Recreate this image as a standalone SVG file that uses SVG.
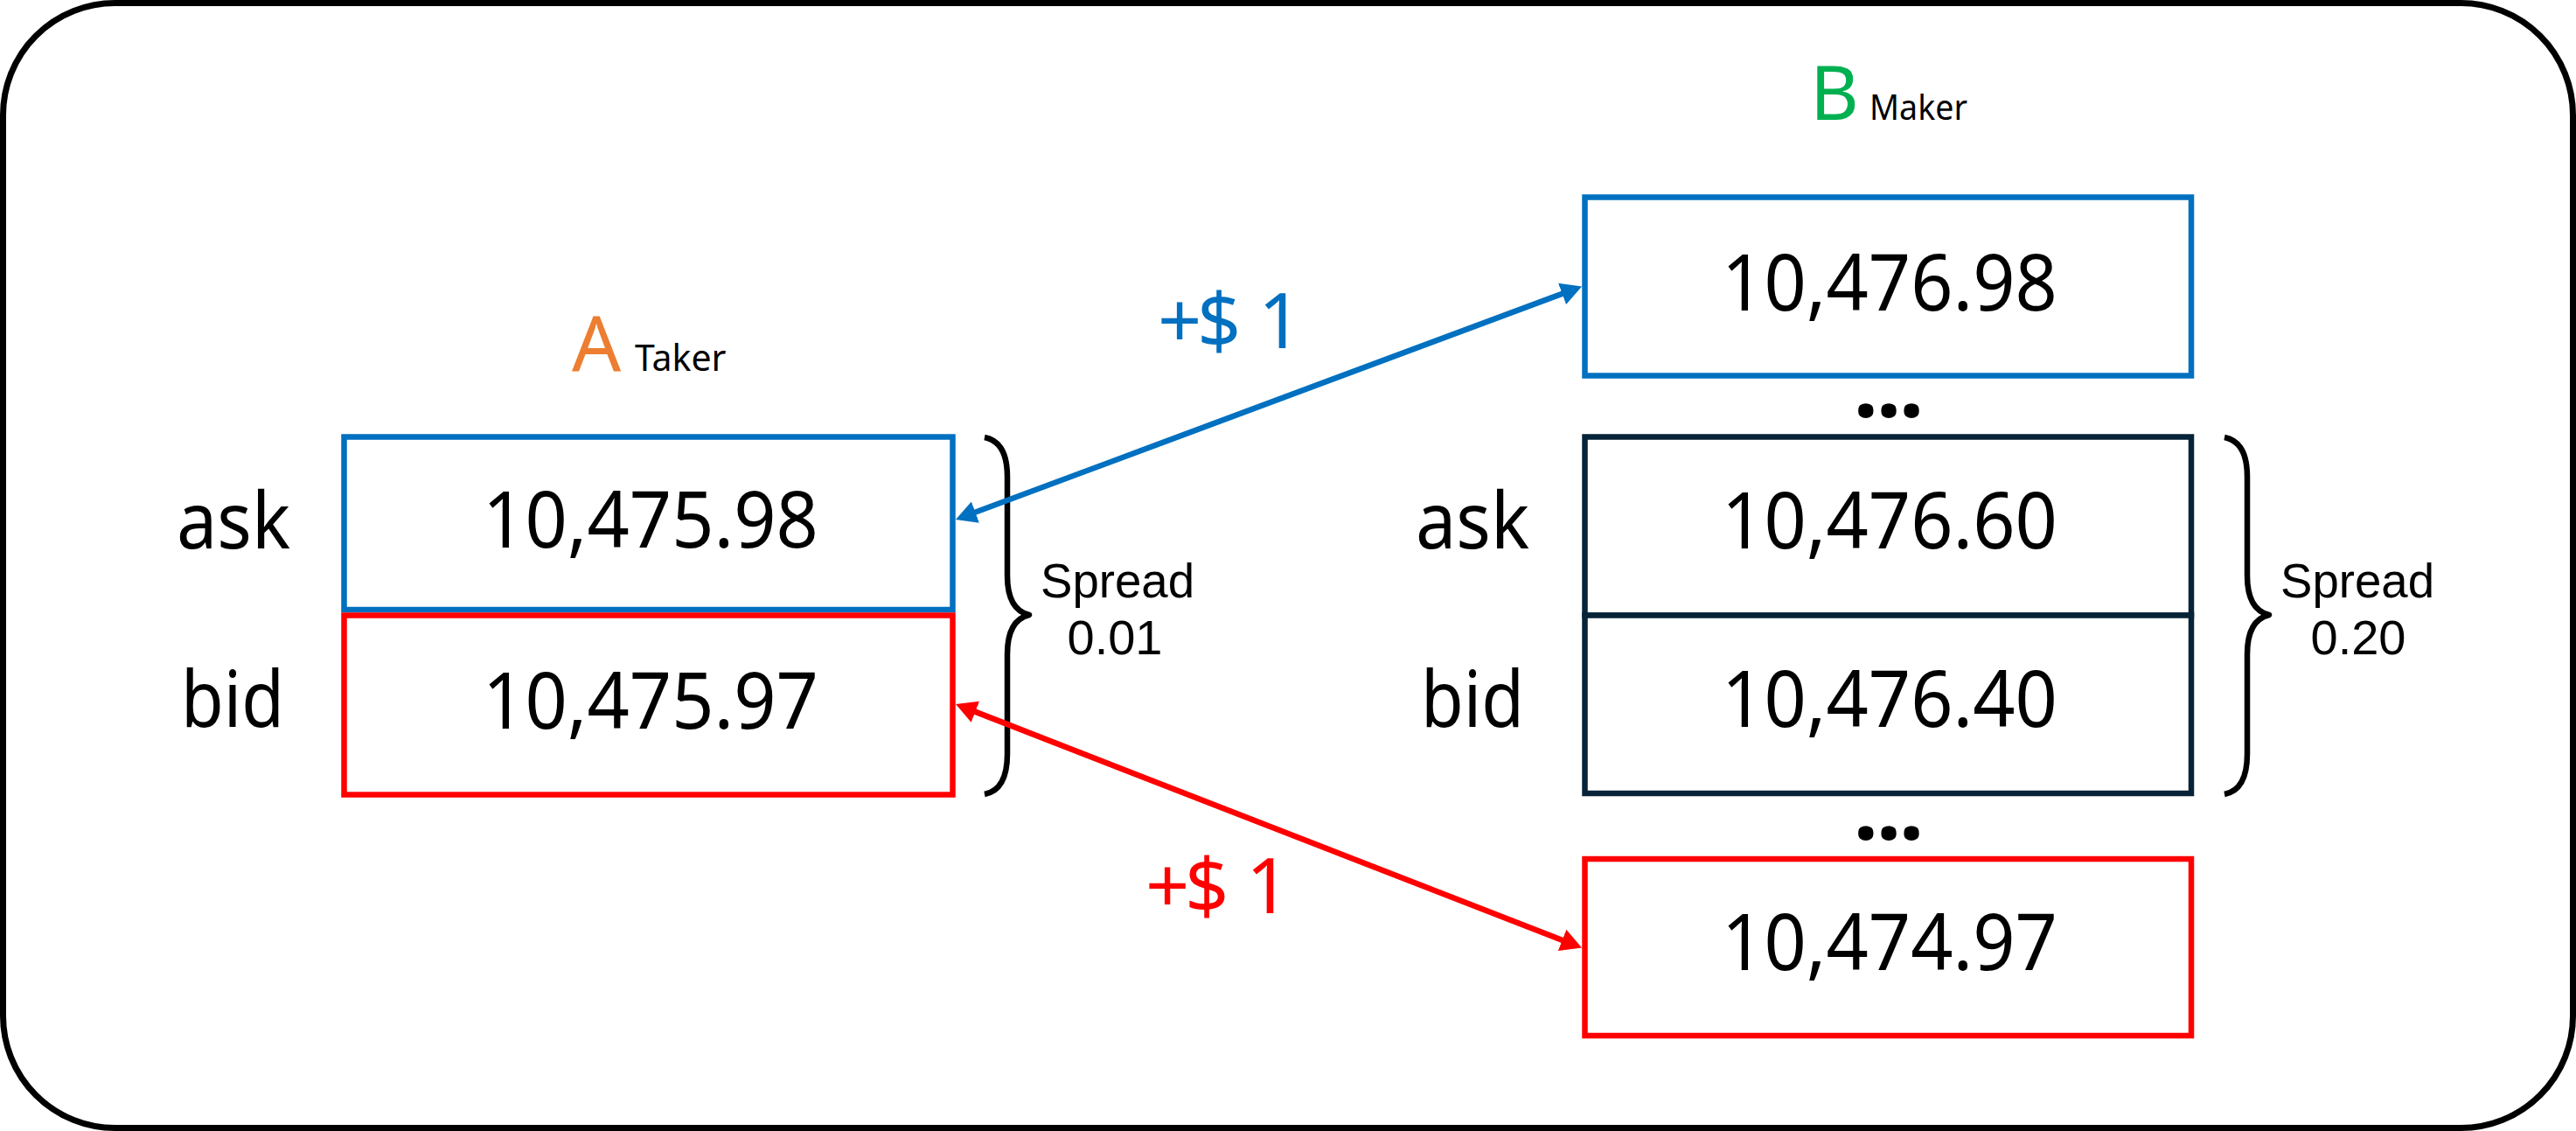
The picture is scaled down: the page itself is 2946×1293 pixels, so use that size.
<svg xmlns="http://www.w3.org/2000/svg" width="2946" height="1293" viewBox="0 0 2946 1293">
<style>
text{font-family:"Noto Sans","Open Sans","Liberation Sans",sans-serif;fill:#000}
.num{font-size:90px;text-anchor:middle}
.lbl{font-size:90px;text-anchor:middle}
.spr{font-family:"Liberation Sans",Arial,sans-serif;font-size:56px;text-anchor:middle}
.dots{font-size:100px;font-weight:bold;text-anchor:middle;letter-spacing:-2px}
.box{fill:#fff;stroke-width:6.5}
.blue{stroke:#0070C0}
.red{stroke:#FF0000}
.dark{stroke:#062338}
.brace{fill:none;stroke:#000;stroke-width:6.5;stroke-linejoin:round}
.conn{fill:none;stroke-width:6.5}
.gain{font-size:88px}
</style>
<defs>
<marker id="ahBlue" markerUnits="userSpaceOnUse" viewBox="0 0 24 26" refX="12" refY="13" markerWidth="24" markerHeight="26" orient="auto-start-reverse"><path d="M0,0 L24,13 L0,26 z" fill="#0070C0"/></marker>
<marker id="ahRed" markerUnits="userSpaceOnUse" viewBox="0 0 24 26" refX="12" refY="13" markerWidth="24" markerHeight="26" orient="auto-start-reverse"><path d="M0,0 L24,13 L0,26 z" fill="#FF0000"/></marker>
</defs>
<rect id="frame" x="3.5" y="3.5" width="2939" height="1286" rx="128" ry="128" fill="#fff" stroke="#000" stroke-width="7"/>

<g id="titleA">
<text x="654" y="424" style="font-size:88px;fill:#ED7D31">A</text>
<text x="726" y="424" style="font-size:41px">Taker</text>
</g>
<g id="titleB">
<text x="2070" y="137" style="font-size:86px;fill:#00B050">B</text>
<text x="2138" y="137" style="font-size:40px" textLength="112" lengthAdjust="spacingAndGlyphs">Maker</text>
</g>

<g id="A-ask">
<rect class="box blue" x="393.5" y="499.5" width="696" height="197.5"/>
<text class="lbl" x="267" y="627" textLength="130" lengthAdjust="spacingAndGlyphs">ask</text>
<text class="num" x="744" y="626" textLength="384" lengthAdjust="spacingAndGlyphs">10,475.98</text>
</g>
<g id="A-bid">
<rect class="box red" x="393.5" y="703.5" width="696" height="205"/>
<text class="lbl" x="266" y="831" textLength="118" lengthAdjust="spacingAndGlyphs">bid</text>
<text class="num" x="744" y="833" textLength="384" lengthAdjust="spacingAndGlyphs">10,475.97</text>
</g>
<g id="A-spread">
<path class="brace" d="M1126,500 Q1152,505 1152,545 L1152,658 Q1152,697 1177,703 Q1152,709 1152,748 L1152,862 Q1152,903 1126,908"/>
<text class="spr" x="1278" y="683" textLength="176" lengthAdjust="spacingAndGlyphs">Spread</text>
<text class="spr" x="1275" y="748">0.01</text>
</g>

<g id="B-top">
<rect class="box blue" x="1812.5" y="225.5" width="693.5" height="204"/>
<text class="num" x="2161" y="354.5" textLength="384" lengthAdjust="spacingAndGlyphs">10,476.98</text>
</g>
<g id="B-dots-top"><text class="dots" x="2159" y="477">...</text></g>
<g id="B-ask">
<rect class="box dark" x="1812.5" y="499.5" width="693.5" height="204"/>
<text class="lbl" x="1684" y="627" textLength="130" lengthAdjust="spacingAndGlyphs">ask</text>
<text class="num" x="2161" y="627" textLength="384" lengthAdjust="spacingAndGlyphs">10,476.60</text>
</g>
<g id="B-bid">
<rect class="box dark" x="1812.5" y="703.5" width="693.5" height="203.5"/>
<text class="lbl" x="1684" y="831" textLength="118" lengthAdjust="spacingAndGlyphs">bid</text>
<text class="num" x="2161" y="831" textLength="384" lengthAdjust="spacingAndGlyphs">10,476.40</text>
</g>
<g id="B-dots-bottom"><text class="dots" x="2159" y="960">...</text></g>
<g id="B-bottom">
<rect class="box red" x="1812.5" y="982" width="693.5" height="202"/>
<text class="num" x="2161" y="1108.5" textLength="384" lengthAdjust="spacingAndGlyphs">10,474.97</text>
</g>
<g id="B-spread">
<path class="brace" d="M2544,500 Q2570,505 2570,545 L2570,658 Q2570,697 2595,703 Q2570,709 2570,748 L2570,862 Q2570,903 2544,908"/>
<text class="spr" x="2696" y="683" textLength="176" lengthAdjust="spacingAndGlyphs">Spread</text>
<text class="spr" x="2697" y="748">0.20</text>
</g>

<g id="connectors">
<line class="conn" x1="1104.2" y1="589.8" x2="1797.8" y2="331.7" stroke="#0070C0" marker-start="url(#ahBlue)" marker-end="url(#ahBlue)"/>
<line class="conn" x1="1104.2" y1="809.4" x2="1797.8" y2="1079.2" stroke="#FF0000" marker-start="url(#ahRed)" marker-end="url(#ahRed)"/>
<text class="gain" x="1324 1369 1419 1439" y="398" style="fill:#0070C0">+$ 1</text>
<text class="gain" x="1310 1355 1405 1425" y="1044" style="fill:#FF0000">+$ 1</text>
</g>
</svg>
